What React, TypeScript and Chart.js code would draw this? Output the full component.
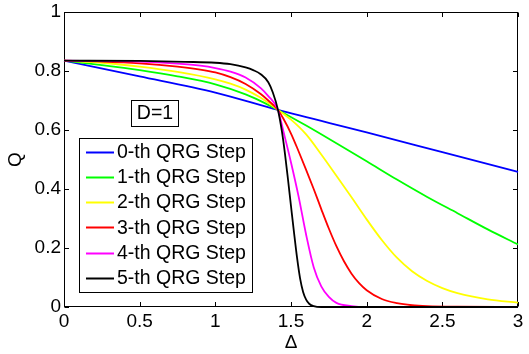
import React, { useEffect, useRef } from "react";
import { Chart, registerables } from "chart.js";

Chart.register(...registerables);

const FONT = "'Liberation Sans', Arial, Helvetica, sans-serif";

// Tick values and labels
const xTicks = [0, 0.5, 1, 1.5, 2, 2.5, 3];
const xTickLabels = ["0", "0.5", "1", "1.5", "2", "2.5", "3"];
const yTicks = [0, 0.2, 0.4, 0.6, 0.8, 1];
const yTickLabels = ["0", "0.2", "0.4", "0.6", "0.8", "1"];

// Series labels / colours
const seriesLabels = [
  "0-th QRG Step",
  "1-th QRG Step",
  "2-th QRG Step",
  "3-th QRG Step",
  "4-th QRG Step",
  "5-th QRG Step",
];
const seriesColors = ["#0000ff", "#00ff00", "#ffff00", "#ff0000", "#ff00ff", "#000000"];

// Series data (Δ, Q)
const delta0 = [0, 0.5, 1.0, 1.414, 2.0, 2.5, 3.0];
const q0 = [0.835, 0.782, 0.727, 0.668, 0.592, 0.525, 0.458];

const delta1 = [0, 0.25, 0.5, 0.75, 1.0, 1.2, 1.3, 1.414, 1.6, 1.8, 2.0, 2.2, 2.4, 2.6, 2.8, 3.0];
const q1 = [0.835, 0.82, 0.803, 0.782, 0.755, 0.721, 0.698, 0.668, 0.615, 0.555, 0.494, 0.432, 0.373, 0.318, 0.263, 0.212];

const delta2 = [0, 0.25, 0.5, 0.75, 1.0, 1.1, 1.2, 1.3, 1.414, 1.5, 1.6, 1.7, 1.8, 1.9, 2.0, 2.1, 2.2, 2.3, 2.4, 2.5, 2.6, 2.8, 3.0];
const q2 = [0.835, 0.828, 0.815, 0.797, 0.772, 0.757, 0.737, 0.709, 0.668, 0.635, 0.585, 0.517, 0.445, 0.372, 0.297, 0.227, 0.167, 0.121, 0.088, 0.064, 0.047, 0.026, 0.015];

const delta3 = [0, 0.25, 0.5, 0.75, 0.9, 1.0, 1.1, 1.2, 1.3, 1.35, 1.414, 1.45, 1.5, 1.55, 1.6, 1.65, 1.7, 1.75, 1.8, 1.85, 1.9, 1.95, 2.0, 2.1, 2.2, 2.3, 2.4, 2.6, 3.0];
const q3 = [0.835, 0.832, 0.826, 0.815, 0.805, 0.795, 0.779, 0.756, 0.722, 0.7, 0.668, 0.638, 0.588, 0.528, 0.465, 0.4, 0.332, 0.266, 0.206, 0.155, 0.113, 0.081, 0.057, 0.027, 0.013, 0.006, 0.003, 0.001, 0];

const delta4 = [0, 0.5, 0.75, 0.9, 1.0, 1.1, 1.2, 1.3, 1.35, 1.414, 1.45, 1.5, 1.55, 1.6, 1.65, 1.7, 1.75, 1.8, 1.9, 2.0, 3.0];
const q4 = [0.835, 0.832, 0.825, 0.818, 0.81, 0.798, 0.778, 0.742, 0.715, 0.668, 0.595, 0.49, 0.375, 0.245, 0.135, 0.07, 0.034, 0.014, 0.003, 0, 0];

const delta5 = [0, 0.5, 0.8, 1.0, 1.1, 1.2, 1.25, 1.3, 1.35, 1.38, 1.414, 1.44, 1.46, 1.48, 1.5, 1.52, 1.54, 1.56, 1.58, 1.6, 1.62, 1.65, 1.7, 3.0];
const q5 = [0.835, 0.834, 0.831, 0.828, 0.823, 0.812, 0.803, 0.789, 0.762, 0.727, 0.668, 0.595, 0.52, 0.433, 0.342, 0.252, 0.167, 0.097, 0.051, 0.025, 0.011, 0.003, 0, 0];

const seriesDelta = [delta0, delta1, delta2, delta3, delta4, delta5];
const seriesQ = [q0, q1, q2, q3, q4, q5];

const annotationText = "D=1";
const xTitle = "Δ";
const yTitle = "Q";

export default function App() {
  const ref = useRef<HTMLCanvasElement>(null);

  useEffect(() => {
    if (!ref.current) return;

    const framePlugin = {
      id: "matlabFrame",
      beforeDatasetsDraw(chart: any) {
        const { ctx, chartArea: a, scales } = chart;
        const tl = 4.5;
        ctx.save();
        ctx.strokeStyle = "#000";
        ctx.lineWidth = 1;
        const L = Math.round(a.left) + 0.5;
        const R = Math.round(a.right) - 0.5;
        const T = Math.round(a.top) + 0.5;
        const B = Math.round(a.bottom) - 0.5;
        ctx.strokeRect(L, T, R - L, B - T);
        ctx.beginPath();
        for (const t of scales.x.ticks) {
          const px = Math.round(scales.x.getPixelForValue(t.value)) + 0.5;
          ctx.moveTo(px, B);
          ctx.lineTo(px, B - tl);
          ctx.moveTo(px, T);
          ctx.lineTo(px, T + tl);
        }
        for (const t of scales.y.ticks) {
          const py = Math.round(scales.y.getPixelForValue(t.value)) + 0.5;
          ctx.moveTo(L, py);
          ctx.lineTo(L + tl, py);
          ctx.moveTo(R, py);
          ctx.lineTo(R - tl, py);
        }
        ctx.stroke();
        ctx.restore();
      },
      afterDatasetsDraw(chart: any) {
        const { ctx } = chart;
        ctx.save();
        ctx.font = `19.5px ${FONT}`;
        ctx.textBaseline = "middle";
        // D=1 annotation box
        ctx.fillStyle = "#fff";
        ctx.fillRect(131, 100, 48, 27);
        ctx.strokeStyle = "#000";
        ctx.lineWidth = 1;
        ctx.strokeRect(131.5, 100.5, 47, 26);
        ctx.fillStyle = "#000";
        ctx.textAlign = "center";
        ctx.fillText(annotationText, 155, 114);
        // Legend
        ctx.fillStyle = "#fff";
        ctx.fillRect(79, 138, 174, 155);
        ctx.strokeRect(79.5, 138.5, 173, 154);
        ctx.textAlign = "left";
        chart.data.datasets.forEach((ds: any, i: number) => {
          const y = 151.7 + i * 25.2;
          ctx.strokeStyle = ds.borderColor;
          ctx.lineWidth = 2;
          ctx.beginPath();
          ctx.moveTo(86, Math.round(y) + 0.5);
          ctx.lineTo(114, Math.round(y) + 0.5);
          ctx.stroke();
          ctx.fillStyle = "#000";
          ctx.fillText(ds.label, 117, y + 1);
        });
        ctx.restore();
      },
    };

    const datasets = seriesLabels.map((label, i) => ({
      label,
      data: seriesDelta[i].map((d, j) => ({ x: d, y: seriesQ[i][j] })),
      borderColor: seriesColors[i],
      backgroundColor: seriesColors[i],
      borderWidth: 1.8,
      pointRadius: 0,
      showLine: true,
      fill: false,
      cubicInterpolationMode: "monotone" as const,
      clip: false as any,
      order: seriesLabels.length - i,
    }));

    const chart = new Chart(ref.current, {
      type: "scatter",
      data: { datasets },
      plugins: [framePlugin],
      options: {
        animation: false,
        responsive: false,
        devicePixelRatio: 1,
        layout: { padding: { top: 12, right: 11, left: 0, bottom: 0 } },
        plugins: {
          legend: { display: false },
          tooltip: { enabled: false },
        },
        scales: {
          x: {
            type: "linear",
            min: 0,
            max: 3,
            afterBuildTicks: (scale: any) => {
              scale.ticks = xTicks.map((v) => ({ value: v }));
            },
            afterFit: (scale: any) => {
              scale.height = 47;
              scale.paddingLeft = 0;
              scale.paddingRight = 0;
            },
            grid: { display: false, drawTicks: false },
            border: { display: false },
            ticks: {
              autoSkip: false,
              maxRotation: 0,
              padding: 3,
              color: "#000",
              font: { family: FONT, size: 19 },
              callback: (_v: any, i: number) => xTickLabels[i],
            },
            title: {
              display: true,
              text: xTitle,
              color: "#000",
              font: { family: FONT, size: 19 },
              padding: { top: 0, bottom: 0 },
            },
          },
          y: {
            type: "linear",
            min: 0,
            max: 1,
            afterBuildTicks: (scale: any) => {
              scale.ticks = yTicks.map((v) => ({ value: v }));
            },
            afterFit: (scale: any) => {
              scale.width = 64;
              scale.paddingTop = 0;
              scale.paddingBottom = 0;
            },
            grid: { display: false, drawTicks: false },
            border: { display: false },
            ticks: {
              autoSkip: false,
              padding: 3,
              color: "#000",
              font: { family: FONT, size: 19 },
              callback: (_v: any, i: number) => yTickLabels[i],
            },
            title: {
              display: true,
              text: yTitle,
              color: "#000",
              font: { family: FONT, size: 19 },
              padding: { top: 4, bottom: 0 },
            },
          },
        },
      },
    });

    return () => chart.destroy();
  }, []);

  return (
    <div style={{ position: "fixed", left: 0, top: 0, width: 529, height: 354, background: "#fff" }}>
      <canvas ref={ref} width={529} height={354} style={{ display: "block", width: 529, height: 354 }} />
    </div>
  );
}
